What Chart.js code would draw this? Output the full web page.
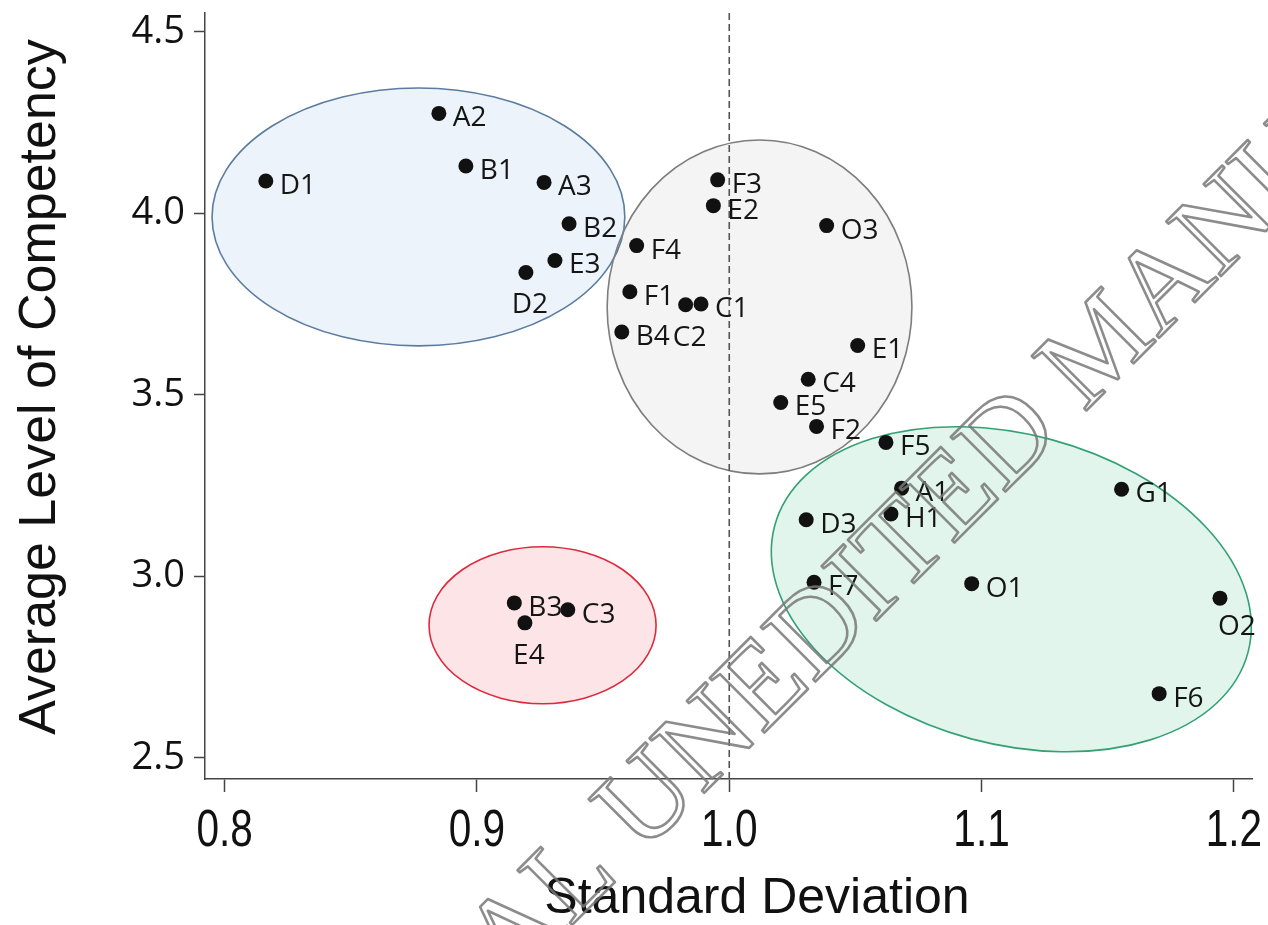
<!DOCTYPE html>
<html>
<head>
<meta charset="utf-8">
<script src="https://cdn.jsdelivr.net/npm/chart.js@4.4.1/dist/chart.umd.min.js"></script>
<style>
html,body{margin:0;padding:0;background:#fff;}
#wrap{width:1268px;height:925px;position:relative;}
</style>
</head>
<body>
<div id="wrap"><canvas id="c" width="1268" height="925"></canvas></div>
<script>
// ---------- data ----------
const codes = ['D1','A2','B1','A3','B2','E3','D2','F4','F1','C2','C1','B4','F3','E2','O3','E1','C4','E5','F2','F5','A1','H1','D3','F7','O1','G1','O2','F6','B3','C3','E4'];
const sdValues = [0.8163,0.8849,0.8956,0.9266,0.9365,0.9309,0.9194,0.9633,0.9606,0.9827,0.9888,0.9574,0.9954,0.9937,1.0386,1.0509,1.0313,1.0204,1.0346,1.0621,1.0683,1.0641,1.0305,1.0336,1.0961,1.1555,1.1945,1.1704,0.9148,0.9360,0.9190];
const avgValues = [4.089,4.275,4.130,4.085,3.971,3.870,3.837,3.911,3.784,3.748,3.750,3.673,4.092,4.021,3.966,3.636,3.543,3.479,3.413,3.369,3.243,3.172,3.156,2.984,2.980,3.240,2.940,2.677,2.927,2.908,2.872];
// label placement: r = right, b = below, br = below-right
const labelPlacement = ['r','r','r','r','r','r','b','r','r','b','r','r','r','r','r','r','r','r','r','r','r','r','r','r','r','r','br','r','r','r','b'];

const xTickValues = [0.8,0.9,1.0,1.1,1.2];
const yTickValues = [2.5,3.0,3.5,4.0,4.5];
const xRange = [0.7922, 1.2072];
const yRange = [2.442, 4.5515];
const refLineX = 1.0;

// cluster ellipses (data units)
const clusterNames = ['blue','gray','green','red'];
const clusterCx = [0.8768, 1.0120, 1.1118, 0.9260];
const clusterCy = [3.990, 3.742, 2.9646, 2.8655];
const clusterRx = [0.0818, 0.0604, 0.0971, 0.0450];
const clusterRy = [0.3551, 0.4597, 0.4266, 0.2161];
const clusterTiltDeg = [0, 0, 15, 0];

const xTitle = 'Standard Deviation';
const yTitle = 'Average Level of Competency';
const watermarkText = 'FINAL UNEDITED MANUSCRIPT';

// ---------- styles ----------
const clusterStyle = {
  blue:  {fill:'#edf3fa', stroke:'#5a7ca0'},
  gray:  {fill:'#f4f4f4', stroke:'#7d7d7d'},
  green: {fill:'#e1f5ec', stroke:'#33a174'},
  red:   {fill:'#fde5e7', stroke:'#dc2a3c'}
};

const overlay = {
  id: 'overlay',
  beforeDatasetsDraw(chart) {
    const {ctx, chartArea: a, scales: {x, y}} = chart;
    ctx.save();
    const shapes = clusterNames.map((n, i) => {
      const px = x.getPixelForValue(clusterCx[i]);
      const py = y.getPixelForValue(clusterCy[i]);
      const rx = Math.abs(x.getPixelForValue(clusterCx[i] + clusterRx[i]) - px);
      const ry = Math.abs(y.getPixelForValue(clusterCy[i] + clusterRy[i]) - py);
      return {n, px, py, rx, ry, rot: clusterTiltDeg[i] * Math.PI / 180};
    });
    shapes.forEach(s => {
      ctx.beginPath();
      ctx.ellipse(s.px, s.py, s.rx, s.ry, s.rot, 0, Math.PI * 2);
      ctx.fillStyle = clusterStyle[s.n].fill;
      ctx.fill();
    });
    shapes.forEach(s => {
      ctx.beginPath();
      ctx.ellipse(s.px, s.py, s.rx, s.ry, s.rot, 0, Math.PI * 2);
      ctx.strokeStyle = clusterStyle[s.n].stroke;
      ctx.lineWidth = 1.6;
      ctx.stroke();
    });
    const lx = x.getPixelForValue(refLineX);
    ctx.setLineDash([7, 4]);
    ctx.strokeStyle = '#555';
    ctx.lineWidth = 1.6;
    ctx.beginPath();
    ctx.moveTo(lx, a.top);
    ctx.lineTo(lx, a.bottom);
    ctx.stroke();
    ctx.restore();
  },
  afterDatasetsDraw(chart) {
    const {ctx} = chart;
    const meta = chart.getDatasetMeta(0);
    ctx.save();
    ctx.font = '28px "Open Sans"';
    ctx.fillStyle = '#151515';
    ctx.textBaseline = 'middle';
    meta.data.forEach((pt, i) => {
      const p = labelPlacement[i];
      if (p === 'r') {
        ctx.textAlign = 'left';
        ctx.fillText(codes[i], pt.x + 14, pt.y + 5);
      } else if (p === 'b') {
        ctx.textAlign = 'center';
        ctx.fillText(codes[i], pt.x + 4, pt.y + 33);
      } else {
        ctx.textAlign = 'left';
        ctx.fillText(codes[i], pt.x - 2, pt.y + 29);
      }
    });
    ctx.restore();
  },
  afterDraw(chart) {
    const {ctx, scales: {x}} = chart;
    ctx.save();
    ctx.fillStyle = '#111';
    // x tick labels (narrow, tall)
    ctx.font = '52px "Liberation Sans", Arial, sans-serif';
    ctx.textAlign = 'center';
    ctx.textBaseline = 'alphabetic';
    xTickValues.forEach(v => {
      const px = x.getPixelForValue(v);
      ctx.save();
      ctx.translate(px, 846);
      ctx.scale(0.78, 1);
      ctx.fillText(v.toFixed(1), 0, 0);
      ctx.restore();
    });
    // axis titles
    ctx.font = '50px "Liberation Sans", Arial, sans-serif';
    ctx.fillText(xTitle, 757, 913);
    ctx.save();
    ctx.translate(55, 387);
    ctx.rotate(-Math.PI / 2);
    ctx.font = '52px "Liberation Sans", Arial, sans-serif';
    ctx.fillText(yTitle, 0, 0);
    ctx.restore();
    // watermark (outlined serif text)
    ctx.translate(375, 1122);
    ctx.rotate(-Math.PI / 4);
    ctx.font = '118px "Liberation Serif", "Times New Roman", serif';
    ctx.textAlign = 'left';
    ctx.lineJoin = 'round';
    ctx.strokeStyle = 'rgba(120,120,120,0.85)';
    ctx.lineWidth = 2.6;
    ctx.strokeText(watermarkText, 0, 0);
    ctx.restore();
  }
};

new Chart(document.getElementById('c'), {
  type: 'scatter',
  data: {
    datasets: [{
      label: 'Competency',
      data: sdValues.map((v, i) => ({x: v, y: avgValues[i]})),
      pointRadius: 7.5,
      pointHoverRadius: 7.5,
      pointBackgroundColor: '#111',
      pointBorderWidth: 0
    }]
  },
  options: {
    responsive: false,
    animation: false,
    events: [],
    layout: {padding: {left: 0, top: 13, right: 16, bottom: 0}},
    plugins: {legend: {display: false}, tooltip: {enabled: false}},
    scales: {
      x: {
        type: 'linear', position: 'bottom',
        min: xRange[0], max: xRange[1],
        afterBuildTicks: s => { s.ticks = xTickValues.map(v => ({value: v})); },
        afterFit: s => { s.height = 146; s.paddingLeft = 0; s.paddingRight = 0; },
        ticks: {display: false, autoSkip: false},
        grid: {drawOnChartArea: false, drawTicks: true, tickLength: 13, tickColor: '#444', tickWidth: 1.5},
        border: {display: true, color: '#444', width: 1.5},
        title: {display: false}
      },
      y: {
        type: 'linear', position: 'left',
        min: yRange[0], max: yRange[1],
        afterBuildTicks: s => { s.ticks = yTickValues.map(v => ({value: v})); },
        afterFit: s => { s.width = 205; s.paddingTop = 0; s.paddingBottom = 0; },
        ticks: {
          callback: v => Number(v).toFixed(1),
          font: {family: '"Open Sans"', size: 38},
          color: '#111', padding: 9, autoSkip: false
        },
        grid: {drawOnChartArea: false, drawTicks: true, tickLength: 11, tickColor: '#444', tickWidth: 1.5},
        border: {display: true, color: '#444', width: 1.5},
        title: {display: false}
      }
    }
  },
  plugins: [overlay]
});
</script>
</body>
</html>
